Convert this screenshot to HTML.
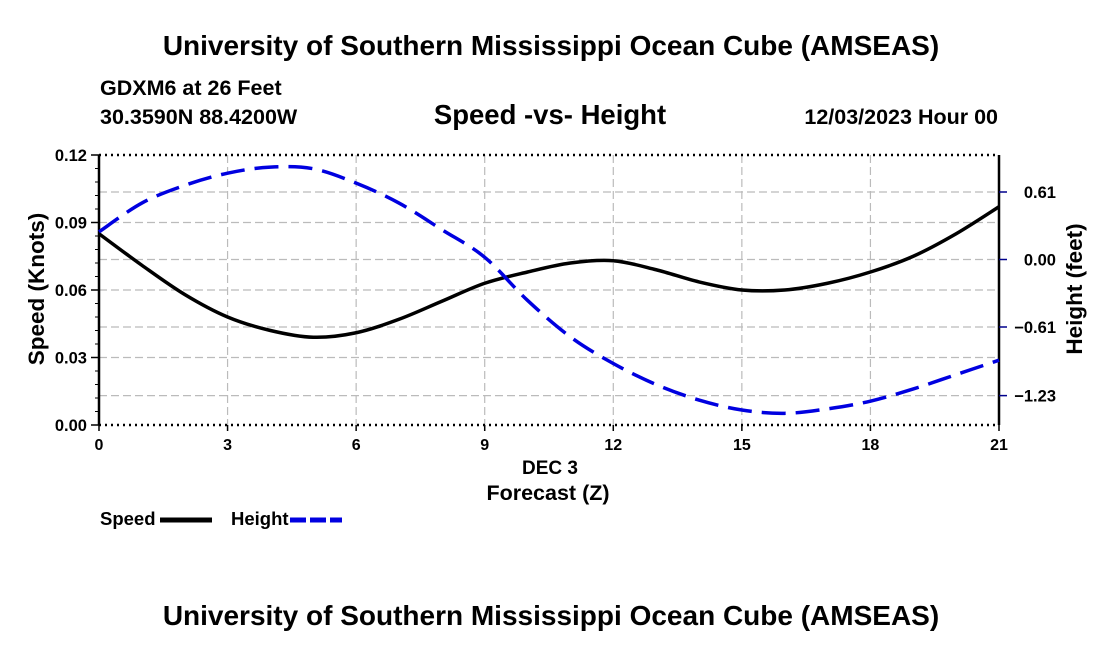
<!DOCTYPE html>
<html><head><meta charset="utf-8"><style>
body{margin:0;background:#fff;font-family:"Liberation Sans",Arial,sans-serif}
svg text{font-family:"Liberation Sans",Arial,sans-serif;font-weight:bold}
</style></head><body>
<svg id="c" width="1100" height="650" xmlns="http://www.w3.org/2000/svg">
<text x="551" y="55" font-size="28" text-anchor="middle">University of Southern Mississippi Ocean Cube (AMSEAS)</text>
<text x="100" y="95" font-size="21.5">GDXM6 at 26 Feet</text>
<text x="100" y="124" font-size="21.5">30.3590N  88.4200W</text>
<text x="550" y="124" font-size="27.5" text-anchor="middle">Speed -vs- Height</text>
<text x="998" y="124" font-size="21.5" text-anchor="end">12/03/2023 Hour 00</text>
<g id="grid"></g><g id="axes"></g><g id="series"></g>
<text x="550" y="474" font-size="19" text-anchor="middle">DEC 3</text>
<text x="548" y="500" font-size="21.5" text-anchor="middle">Forecast (Z)</text>
<text transform="translate(44,289) rotate(-90)" font-size="22.5" text-anchor="middle">Speed (Knots)</text>
<text transform="translate(1082,289) rotate(-90)" font-size="22.5" text-anchor="middle">Height (feet)</text>
<g>
<text x="100" y="525" font-size="18.5">Speed</text>
<line x1="160" y1="520" x2="212" y2="520" stroke="#000" stroke-width="5"/>
<text x="231" y="525" font-size="18.5">Height</text>
<line x1="290" y1="520" x2="342" y2="520" stroke="#0000e0" stroke-width="5" stroke-dasharray="16,4"/>
</g>
<text x="551" y="625" font-size="28" text-anchor="middle">University of Southern Mississippi Ocean Cube (AMSEAS)</text>
</svg>
<script>
const hours=[0,1,2,3,4,5,6,7,8,9,10,11,12,13,14,15,16,17,18,19,20,21];
const speed=[.085,.071,.058,.048,.042,.039,.041,.047,.055,.063,.068,.072,.073,.069,.0636,.060,.060,.063,.068,.075,.085,.097];
const height=[.25,.51,.67,.78,.835,.82,.69,.51,.27,.02,-.37,-.70,-.94,-1.13,-1.27,-1.36,-1.39,-1.35,-1.28,-1.17,-1.04,-.91];
const xTicks=[0,3,6,9,12,15,18,21];
const speedTicks=[0,0.03,0.06,0.09,0.12];
const speedTickLabels=["0.00","0.03","0.06","0.09","0.12"];
const heightTicks=[0.61,0,-0.61,-1.23];
const heightTickLabels=["0.61","0.00","\u22120.61","\u22121.23"];
const L=99,R=999,T=155,B=425;
const X=h=>L+h/21*(R-L);
const YS=v=>B-v/0.12*(B-T);
const YH=v=>259.5-v*110.66;
const NS="http://www.w3.org/2000/svg";
function mk(p,t,a){const e=document.createElementNS(NS,t);for(const k in a)e.setAttribute(k,a[k]);document.getElementById(p).appendChild(e);return e;}
xTicks.slice(1,-1).forEach(h=>{const e=mk('grid','line',{x1:X(h),x2:X(h),y1:T,y2:B,stroke:'#bbb','stroke-dasharray':'8,4','stroke-width':1.2});

});
speedTicks.slice(1,-1).forEach(v=>{const e=mk('grid','line',{x1:L,x2:R,y1:YS(v),y2:YS(v),stroke:'#bbb','stroke-dasharray':'8,4','stroke-width':1.2});

});
heightTicks.forEach(v=>{const e=mk('grid','line',{x1:L,x2:R,y1:YH(v),y2:YH(v),stroke:'#bbb','stroke-dasharray':'8,4','stroke-width':1.2});

});
[T,B].forEach(y=>{const e=mk('axes','line',{x1:L,x2:R,y1:y,y2:y,stroke:'#000','stroke-width':2.5,'stroke-dasharray':'2,4'});

});
[L,R].forEach(x=>{const e=mk('axes','line',{x1:x,x2:x,y1:T,y2:B,stroke:'#000','stroke-width':2.5});

});
for(let v=0;v<=0.1201;v+=0.006){mk('axes','line',{x1:L-4,x2:L,y1:YS(v),y2:YS(v),stroke:'#000','stroke-width':1});}
speedTicks.forEach((v,i)=>{mk('axes','line',{x1:L-8,x2:L,y1:YS(v),y2:YS(v),stroke:'#000','stroke-width':1.5});
const t=mk('axes','text',{x:L-12,y:YS(v)+6,'font-size':16.5,'text-anchor':'end'});t.textContent=speedTickLabels[i];

});
heightTicks.forEach((v,i)=>{mk('axes','line',{x1:R,x2:R+8,y1:YH(v),y2:YH(v),stroke:'#00008b','stroke-width':1.5});
const t=mk('axes','text',{x:R+57,y:YH(v)+6,'font-size':16.5,'text-anchor':'end'});t.textContent=heightTickLabels[i];

});
xTicks.forEach(h=>{mk('axes','line',{x1:X(h),x2:X(h),y1:B,y2:B+6,stroke:'#000','stroke-width':1.5});
const t=mk('axes','text',{x:X(h),y:B+25,'font-size':16,'text-anchor':'middle'});t.textContent=String(h);

});
function path(ys,fy){const p=hours.map((h,i)=>[X(h),fy(ys[i])]);let d=`M${p[0][0]},${p[0][1]}`;
for(let i=0;i<p.length-1;i++){const p0=p[Math.max(0,i-1)],p1=p[i],p2=p[i+1],p3=p[Math.min(p.length-1,i+2)];
d+=` C${p1[0]+(p2[0]-p0[0])/6},${p1[1]+(p2[1]-p0[1])/6} ${p2[0]-(p3[0]-p1[0])/6},${p2[1]-(p3[1]-p1[1])/6} ${p2[0]},${p2[1]}`;}return d;}
const s=mk('series','path',{d:path(speed,YS),fill:'none',stroke:'#000','stroke-width':3.5});


const hh=mk('series','path',{d:path(height,YH),fill:'none',stroke:'#0000e0','stroke-width':3.5,'stroke-dasharray':'24,10'});


</script>
</body></html>
